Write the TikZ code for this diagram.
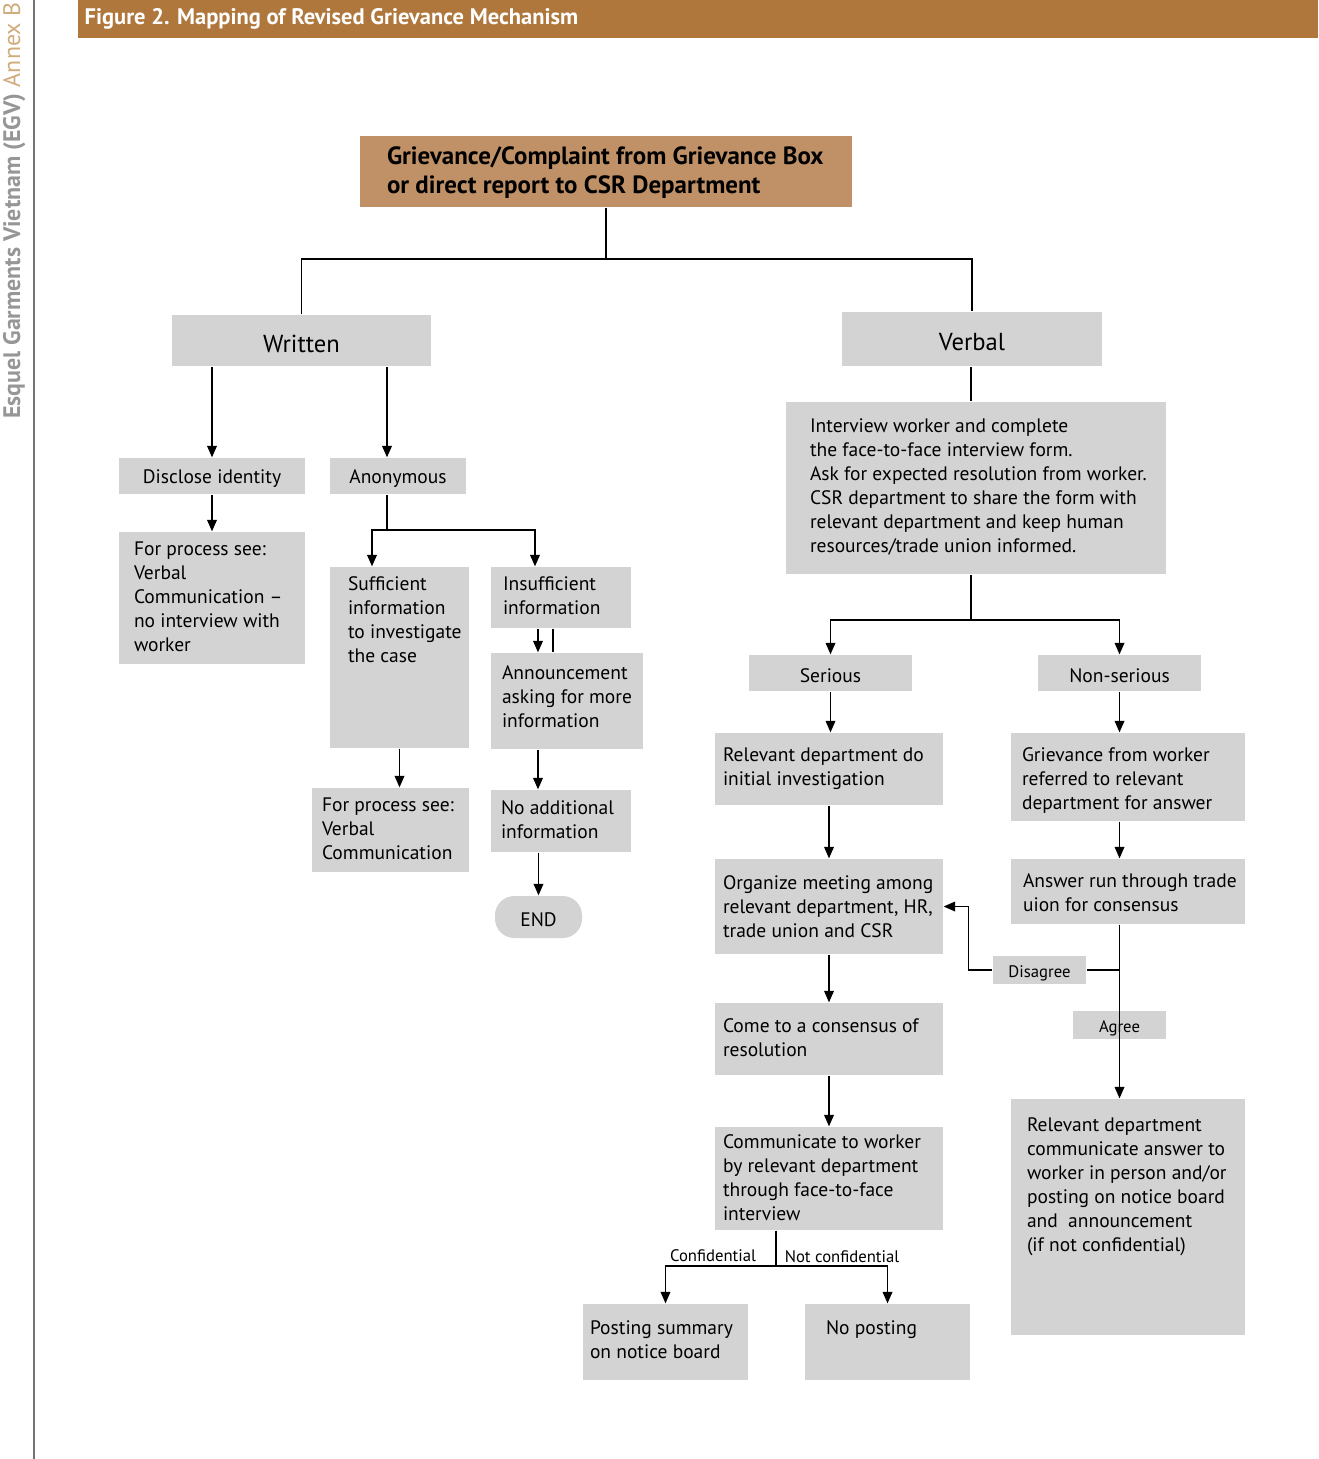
\documentclass[tikz,border=0pt]{standalone}
\usepackage{fontspec}
\setmainfont{PT Sans}
\usetikzlibrary{arrows.meta,fit}
\definecolor{boxgray}{RGB}{211,211,211}
\definecolor{hdrbrown}{RGB}{176,119,60}
\definecolor{topbrown}{RGB}{192,145,102}
\definecolor{sidegray}{RGB}{150,150,150}
\definecolor{sidetan}{RGB}{208,172,124}
\newcommand{\bodyfont}{\fontsize{11.1}{13.6}\selectfont}
\newcommand{\smallfont}{\fontsize{9.5}{11}\selectfont}
\newcommand{\bigfont}{\fontsize{14}{16}\selectfont}
\begin{document}
\begin{tikzpicture}[x={(0.02cm,0)},y={(0,-0.02cm)},line width=0.75pt,
  box/.style={fill=boxgray,inner sep=0pt},
  txt/.style={anchor=north west,inner sep=0pt,align=left,font=\bodyfont},
  mid/.style={yshift=-1.7pt},
  arr/.style={-{Triangle[length=6.5pt,width=5.5pt]}}]
\useasboundingbox (0,0) rectangle (1318,1459);

% side and header
\draw[line width=1.1pt,color=black!55] (34,0) -- (34,1459);
\node[rotate=90,anchor=base east,inner sep=0pt,font=\fontsize{13.6}{15}\selectfont] (side) at (20,2)
  {\textcolor{sidegray}{\bfseries Esquel Garments Vietnam (EGV)} \textcolor{sidetan}{Annex B}};
\node[fill=hdrbrown,inner sep=0pt,fit={(78,0) (1318,38)}] (hdr) {};
\node[anchor=west,inner sep=0pt,text=white,font=\bfseries\fontsize{12.8}{14}\selectfont] (hdrtext) at (84,19)
  {Figure 2. Mapping of Revised Grievance Mechanism};

% top
\node[fill=topbrown,inner sep=0pt,fit={(360,136) (852,207)}] (top) {};
\node[txt,font=\bfseries\fontsize{14.2}{16.4}\selectfont] (toptext) at ([shift={(27,11)}]top.north west)
  {Grievance/Complaint from Grievance Box\\or direct report to CSR Department};

\node[box,fit={(172,315) (431,366)},label={[font=\bigfont,mid]center:Written}] (written) {};
\node[box,fit={(842,312) (1102,366)},label={[font=\bigfont,mid]center:Verbal}] (verbal) {};

\draw (top.south) -- (606,259) coordinate (split);
\draw (written.north) |- (split) -| (verbal.north);

% written side
\node[box,fit={(119,458) (305,494)},label={[font=\bodyfont,mid]center:Disclose identity}] (disclose) {};
\node[box,fit={(330,458) (466,494)},label={[font=\bodyfont,mid]center:Anonymous}] (anon) {};
\node[box,fit={(119,532) (305,664)}] (vc1) {};
\node[txt] (vc1text) at ([shift={(15,10)}]vc1.north west)
  {For process see:\\Verbal\\Communication --\\no interview with\\worker};
\node[box,fit={(330,567) (469,748)}] (suff) {};
\node[txt] (sufftext) at ([shift={(18,10)}]suff.north west)
  {Sufficient\\information\\to investigate\\the case};
\node[box,fit={(491,567) (631,628)}] (insuff) {};
\node[txt] (insufftext) at ([shift={(12,10)}]insuff.north west)
  {Insufficient\\information};
\node[box,fit={(491,653) (643,749)}] (announce) {};
\node[txt] (announcetext) at ([shift={(11,13)}]announce.north west)
  {Announcement\\asking for more\\information};
\node[box,fit={(491,790) (631,852)}] (noadd) {};
\node[txt] (noaddtext) at ([shift={(10,11)}]noadd.north west)
  {No additional\\information};
\node[box,rounded corners=11pt,fit={(495,896) (582,938)},label={[font=\bodyfont,mid]center:END}] (end) {};
\node[box,fit={(312,788) (469,872)}] (vc2) {};
\node[txt] (vc2text) at ([shift={(10,10)}]vc2.north west)
  {For process see:\\Verbal\\Communication};

\draw[arr] (disclose.north |- written.south) -- (disclose.north);
\draw[arr] (387,0 |- written.south) -- (387,0 |- anon.north);
\draw[arr] (disclose.south) -- (vc1.north);
\draw (387,0 |- anon.south) -- (387,530) coordinate (asplit);
\draw[arr] (asplit) -| (372,0 |- suff.north);
\draw[arr] (asplit) -| (535,0 |- insuff.north);
\draw[arr] (538,0 |- insuff.south) -- (538,0 |- announce.north);
\draw (553,0 |- insuff.south) -- (553,0 |- announce.north);
\draw[arr] (538,0 |- announce.south) -- (538,0 |- noadd.north);
\draw[arr] (end.north |- noadd.south) -- (end.north);
\draw[arr] (suff.south) -- (suff.south |- vc2.north);

% verbal side
\node[box,fit={(786,402) (1166,574)}] (interview) {};
\node[txt] (interviewtext) at ([shift={(24,17)}]interview.north west)
  {Interview worker and complete\\the face-to-face interview form.\\Ask for expected resolution from worker.\\CSR department to share the form with\\relevant department and keep human\\resources/trade union informed.};
\node[box,fit={(749,655) (912,691)},label={[font=\bodyfont,mid]center:Serious}] (serious) {};
\node[box,fit={(1038,655) (1201,691)},label={[font=\bodyfont,mid]center:Non-serious}] (nonserious) {};
\node[box,fit={(715,733) (943,805)}] (reldept) {};
\node[txt] (reldepttext) at ([shift={(8,15)}]reldept.north west)
  {Relevant department do\\initial investigation};
\node[box,fit={(715,859) (943,954)}] (organize) {};
\node[txt] (organizetext) at ([shift={(8,17)}]organize.north west)
  {Organize meeting among\\relevant department, HR,\\trade union and CSR};
\node[box,fit={(715,1003) (943,1075)}] (consensus) {};
\node[txt] (consensustext) at ([shift={(8,16)}]consensus.north west)
  {Come to a consensus of\\resolution};
\node[box,fit={(715,1127) (943,1230)}] (comm) {};
\node[txt] (commtext) at ([shift={(8,8)}]comm.north west)
  {Communicate to worker\\by relevant department\\through face-to-face\\interview};
\node[box,fit={(583,1304) (748,1380)}] (post) {};
\node[txt] (posttext) at ([shift={(7,17)}]post.north west)
  {Posting summary\\on notice board};
\node[box,fit={(805,1304) (970,1380)}] (nopost) {};
\node[txt] (noposttext) at ([shift={(21,17)}]nopost.north west) {No posting};
\node[box,fit={(1011,733) (1245,821)}] (worker) {};
\node[txt] (workertext) at ([shift={(11,15)}]worker.north west)
  {Grievance from worker\\referred to relevant\\department for answer};
\node[box,fit={(1011,859) (1245,924)}] (answer) {};
\node[txt] (answertext) at ([shift={(12,15)}]answer.north west)
  {Answer run through trade\\uion for consensus};
\node[box,fit={(1011,1099) (1245,1335)}] (relcomm) {};
\node[txt] (relcommtext) at ([shift={(16,19)}]relcomm.north west)
  {Relevant department\\communicate answer to\\worker in person and/or\\posting on notice board\\and~~announcement\\(if not confidential)};
\node[box,fit={(993,956) (1086,984)},label={[font=\smallfont,mid]center:Disagree}] (disagree) {};
\node[box,fit={(1073,1011) (1166,1039)},label={[font=\smallfont,mid]center:Agree}] (agree) {};

\draw (971,0 |- verbal.south) -- (971,0 |- interview.north);
\draw (971,0 |- interview.south) -- (971,620) coordinate (vsplit);
\draw[arr] (vsplit) -| (serious.north);
\draw[arr] (vsplit) -| (nonserious.north);
\draw[arr] (serious.south) -- (serious.south |- reldept.north);
\draw[arr] (reldept.south) -- (organize.north);
\draw[arr] (organize.south) -- (consensus.north);
\draw[arr] (consensus.south) -- (comm.north);
\draw (776,0 |- comm.south) -- (776,1266) coordinate (csplit);
\draw[arr] (csplit) -| (post.north);
\draw[arr] (csplit) -| (nopost.north);
\node[anchor=south,inner sep=0pt,font=\smallfont] (conf) at (713,1262) {Confidential};
\node[anchor=south,inner sep=0pt,font=\smallfont] (notconf) at (842,1263) {Not confidential};

\draw[arr] (nonserious.south) -- (nonserious.south |- worker.north);
\draw[arr] (nonserious.south |- worker.south) -- (nonserious.south |- answer.north);
\draw[arr] (nonserious.south |- answer.south) -- (nonserious.south |- relcomm.north);
\draw (nonserious.south |- disagree.east) -- (disagree.east);
\draw[arr] (disagree.west) -- ++(-24,0) |- (organize.east);
\end{tikzpicture}
\end{document}
